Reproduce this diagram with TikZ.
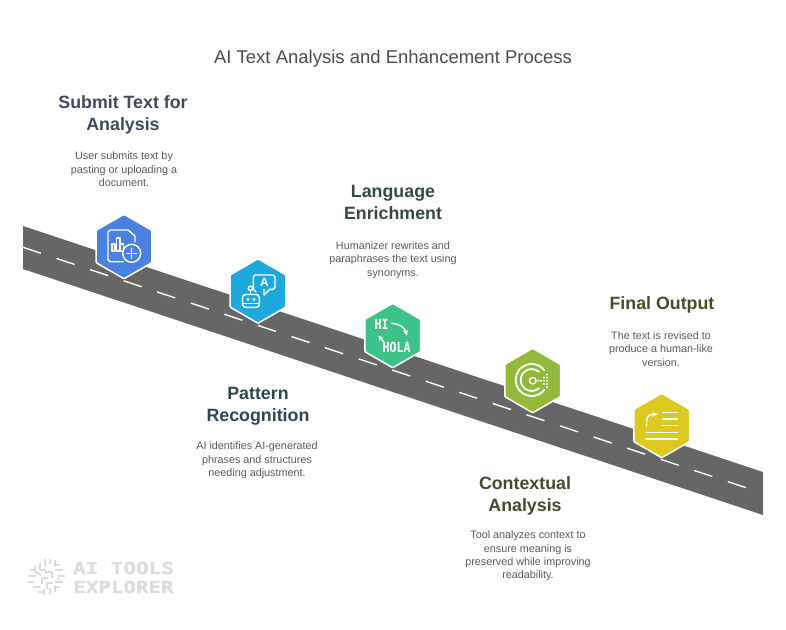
\documentclass[tikz,border=0pt]{standalone}
\usepackage{fontspec}
\setmainfont{Liberation Sans}
\newfontfamily\monofont{DejaVu Sans Mono}
\newfontfamily\logofont[FakeBold=1.6]{DejaVu Sans Mono}
\usetikzlibrary{shapes.geometric}
\definecolor{roadgray}{HTML}{666666}
\definecolor{hexblue}{HTML}{4A80E0}
\definecolor{hexcyan}{HTML}{1FA8DC}
\definecolor{hexgreen}{HTML}{3DC389}
\definecolor{hexolive}{HTML}{93B93A}
\definecolor{hexyellow}{HTML}{DCC81E}
\definecolor{logogray}{HTML}{DCDCDC}
\tikzset{
    hexbox/.style={regular polygon,regular polygon sides=6,shape border rotate=30,minimum size=64.5pt,inner sep=0pt,outer sep=0pt,draw=white,line width=1.5pt,rounded corners=1pt},
    headtext/.style={align=center,font=\fontsize{17.8}{22}\selectfont\bfseries},
    bodytext/.style={align=center,text=black!65,font=\fontsize{10.8}{13.4}\selectfont},
    iconline/.style={draw=white,line width=1.4pt,line cap=round,line join=round},
    logoline/.style={draw=logogray,line width=2.2pt}
}
\begin{document}
\begin{tikzpicture}[x=1pt,y=-1pt]
    \useasboundingbox (0,0) rectangle (786,629);
    % road
    \fill[roadgray] (23,226) -- (763,472) -- (763,515) -- (23,269) -- cycle;
    \coordinate (linestart) at (23,247.3);
    \coordinate (lineend) at (750,489);
    \draw[white,line width=1.4pt,dash pattern=on 19pt off 16.37pt] (linestart) -- (lineend);
    % hexagons
    \node[hexbox,fill=hexblue] (submit) at (124,246.5) {};
    \node[hexbox,fill=hexcyan] (pattern) at (258,291) {};
    \node[hexbox,fill=hexgreen] (language) at (392.7,335.5) {};
    \node[hexbox,fill=hexolive] (context) at (532.7,380.5) {};
    \node[hexbox,fill=hexyellow] (final) at (661.7,425.5) {};
    % title
    \node[text=black!70,font=\fontsize{18.5}{22}\selectfont] (title) at (393,59) {AI Text Analysis and Enhancement Process};
    % headings
    \node[headtext,text={rgb,255:red,62;green,74;blue,92}] (submithead) at (123,115) {Submit Text for\\Analysis};
    \node[headtext,text={rgb,255:red,47;green,70;blue,80}] (patternhead) at (258,406) {Pattern\\Recognition};
    \node[headtext,text={rgb,255:red,53;green,73;blue,63}] (languagehead) at (393,202) {Language\\Enrichment};
    \node[headtext,text={rgb,255:red,71;green,73;blue,47}] (contexthead) at (525,496) {Contextual\\Analysis};
    \node[headtext,text={rgb,255:red,76;green,74;blue,42}] (finalhead) at (662,305) {Final Output};
    % descriptions
    \node[bodytext] (submitbody) at (124,169.5) {User submits text by\\pasting or uploading a\\document.};
    \node[bodytext] (patternbody) at (257,460.5) {AI identifies AI-generated\\phrases and structures\\needing adjustment.};
    \node[bodytext] (languagebody) at (393,260) {Humanizer rewrites and\\paraphrases the text using\\synonyms.};
    \node[bodytext] (contextbody) at (528,556) {Tool analyzes context to\\ensure meaning is\\preserved while improving\\readability.};
    \node[bodytext] (finalbody) at (661,349) {The text is revised to\\produce a human-like\\version.};
    % icon document
    \draw[iconline] (123.3,261.7) -- (110,261.7) -- (108,259.7) -- (108,232) -- (110,230) -- (128,230) -- (135,236) -- (135,242);
    \draw[iconline] (131.7,253.3) circle[radius=9pt];
    \draw[iconline] (126.7,253.3) -- (136.7,253.3) (131.7,248.3) -- (131.7,258.3);
    \draw[iconline] (112,251) rectangle (115,244);
    \draw[iconline] (116.5,251) rectangle (120,238);
    \draw[iconline] (120,251) rectangle (123.5,244);
    % icon robot
    \draw[iconline] (256,292) -- (253.3,289.3) -- (253.3,277) -- (255,275) -- (273,275) -- (275,277) -- (275,287.3) -- (273,289.3) -- (270,289.3) -- (264,295) -- (264,289.3);
    \node[text=white,font=\fontsize{12}{12}\selectfont\bfseries] (bubbleletter) at (264.5,282) {A};
    \draw[iconline,rounded corners=3pt] (242.5,307.3) rectangle (259.3,294.5);
    \draw[iconline] (242.5,303.5) -- (259.3,303.5);
    \fill[white] (248,299.5) circle[radius=1.6pt] (254,299.5) circle[radius=1.6pt];
    \draw[iconline] (250.5,288.3) circle[radius=2.2pt];
    \draw[iconline] (250.5,290.5) -- (250.5,294.5);
    % icon translate
    \node[text=white,font=\monofont\fontsize{14}{14}\selectfont\bfseries,xscale=.83] (hiword) at (381.7,324.3) {HI};
    \node[text=white,font=\monofont\fontsize{14}{14}\selectfont\bfseries,xscale=.83] (holaword) at (396.7,347.7) {HOLA};
    \draw[iconline,-stealth] (391.7,323.3) .. controls (400,324) and (405,328) .. (406.7,335.5);
    \draw[iconline,-stealth] (383.5,341.7) -- (378.3,335.5);
    % icon rings
    \draw[iconline,line width=1.8pt] (531.7,380) ++(38:16pt) arc[start angle=38,end angle=322,radius=16pt];
    \draw[iconline,line width=1.8pt] (531.7,380) ++(48:11pt) arc[start angle=48,end angle=312,radius=11pt];
    \draw[iconline] (532.7,380.7) circle[radius=3.3pt];
    \foreach \px/\py in {538/380.7,541/380.7,544/380.7,547/380.7,544/377.5,547/377.5,544/384,547/384,547/374.5,547/387}
        \fill[white] (\px,\py) circle[radius=1.1pt];
    % icon revise
    \draw[iconline,-stealth] (646.7,426) -- (646.7,421) .. controls (646.7,416) and (650,414.3) .. (657.5,414.3);
    \foreach \ly in {412.3,419,425.7}
        \draw[iconline] (662.7,\ly) -- (677.7,\ly);
    \foreach \ly in {432.3,439}
        \draw[iconline] (646,\ly) -- (677.7,\ly);
    % watermark
    \foreach \a/\b/\c/\d in {45/559/45/566,50/559/50/564,40/563/40/570,40/570/46/570,35/566/35/572,35/572/41/575,30/570/36/570,28/576/36/576,28/582/34/582,33/587/40/587,38/592/44/592,44/595/44/589,50/595/50/588,55/592/55/585,60/587/54/587,63/582/55/582,65/576/57/576,63/570/55/570,60/565/54/565,55/560/55/567,45/572/52/572,52/572/52/578,42/578/48/578,42/578/42/584,47/583/53/583,47/583/47/589,58/578/58/580}
        \draw[logoline] (\a,\b) -- (\c,\d);
    \node[text=logogray,font=\logofont\fontsize{16.5}{16.5}\selectfont\bfseries,xscale=1.27] (logotop) at (123.5,568) {AI TOOLS};
    \node[text=logogray,font=\logofont\fontsize{16.5}{16.5}\selectfont\bfseries,xscale=1.26] (logobottom) at (123.5,587) {EXPLORER};
\end{tikzpicture}
\end{document}
